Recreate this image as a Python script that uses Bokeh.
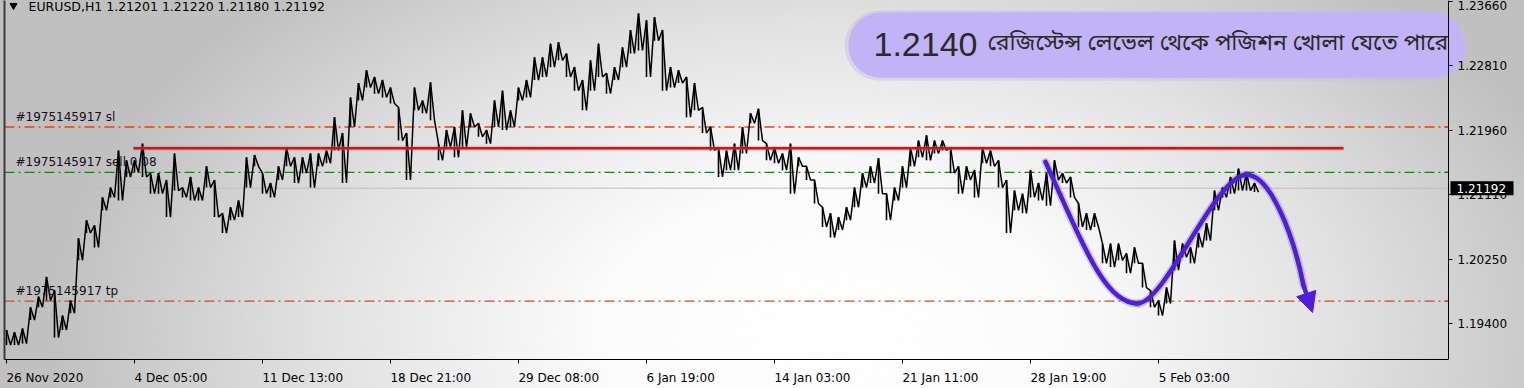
import numpy as np
from bokeh.plotting import figure
from bokeh.models import (Range1d, FixedTicker, LinearAxis, Label, BoxAnnotation,
                          Arrow, NormalHead, PrintfTickFormatter)
from bokeh.core.properties import value
from bokeh.embed import file_html
from bokeh.resources import INLINE

# ---------------- data ----------------
SYMBOL = "EURUSD,H1"
OHLC = [1.21201, 1.21220, 1.21180, 1.21192]

TICK_BARS = [0, 128, 256, 384, 512, 640, 768, 896, 1024, 1152]
TICK_LABELS = ["26 Nov 2020", "4 Dec 05:00", "11 Dec 13:00", "18 Dec 21:00",
               "29 Dec 08:00", "6 Jan 19:00", "14 Jan 03:00", "21 Jan 11:00",
               "28 Jan 19:00", "5 Feb 03:00"]
PRICE_TICKS = [1.1940, 1.2025, 1.2111, 1.2196, 1.2281, 1.2366]

STEP = 8  # hourly bars per sample
HIGH = [1.1932, 1.1929, 1.1934, 1.1962, 1.1976, 1.2002, 1.1984, 1.1951, 1.1971, 1.2053,
        1.2077, 1.2070, 1.2107, 1.2120, 1.2169, 1.2156, 1.2156, 1.2178, 1.2139, 1.2139,
        1.2130, 1.2165, 1.2120, 1.2134, 1.2120, 1.2148, 1.2130, 1.2086, 1.2094, 1.2103,
        1.2160, 1.2163, 1.2139, 1.2126, 1.2148, 1.2173, 1.2160, 1.2160, 1.2165, 1.2165,
        1.2169, 1.2213, 1.2192, 1.2239, 1.2258, 1.2275, 1.2266, 1.2262, 1.2252, 1.2226,
        1.2192, 1.2252, 1.2235, 1.2259, 1.2178, 1.2196, 1.2200, 1.2222, 1.2218, 1.2205,
        1.2196, 1.2235, 1.2248, 1.2222, 1.2252, 1.2262, 1.2292, 1.2292, 1.2310, 1.2312,
        1.2297, 1.2279, 1.2262, 1.2288, 1.2310, 1.2271, 1.2279, 1.2305, 1.2328, 1.2350,
        1.2341, 1.2345, 1.2328, 1.2279, 1.2275, 1.2266, 1.2258, 1.2226, 1.2200, 1.2173,
        1.2169, 1.2178, 1.2200, 1.2218, 1.2224, 1.2178, 1.2173, 1.2165, 1.2178, 1.2160,
        1.2148, 1.2130, 1.2094, 1.2086, 1.2081, 1.2094, 1.2120, 1.2139, 1.2148, 1.2159,
        1.2112, 1.2120, 1.2148, 1.2173, 1.2182, 1.2189, 1.2182, 1.2182, 1.2173, 1.2148,
        1.2148, 1.2143, 1.2173, 1.2169, 1.2156, 1.2130, 1.2116, 1.2112, 1.2143, 1.2126,
        1.2139, 1.2156, 1.2139, 1.2134, 1.2099, 1.2086, 1.2086, 1.2046, 1.2046, 1.2046,
        1.2033, 1.2041, 1.2020, 1.1984, 1.1971, 1.1988, 1.2050, 1.2046, 1.2041, 1.2060,
        1.2073, 1.2116, 1.2120, 1.2134, 1.2145, 1.2139, 1.2126]
LOW = [1.1912, 1.1912, 1.1914, 1.1945, 1.1962, 1.1971, 1.1922, 1.1932, 1.1954, 1.2024,
       1.2060, 1.2041, 1.2090, 1.2107, 1.2103, 1.2134, 1.2140, 1.2134, 1.2112, 1.2112,
       1.2081, 1.2116, 1.2107, 1.2103, 1.2103, 1.2120, 1.2081, 1.2060, 1.2077, 1.2081,
       1.2120, 1.2148, 1.2112, 1.2107, 1.2130, 1.2148, 1.2126, 1.2139, 1.2120, 1.2148,
       1.2152, 1.2169, 1.2126, 1.2200, 1.2235, 1.2252, 1.2244, 1.2239, 1.2231, 1.2182,
       1.2130, 1.2222, 1.2218, 1.2209, 1.2156, 1.2173, 1.2160, 1.2173, 1.2200, 1.2187,
       1.2178, 1.2200, 1.2196, 1.2200, 1.2235, 1.2239, 1.2262, 1.2266, 1.2279, 1.2288,
       1.2266, 1.2248, 1.2222, 1.2248, 1.2266, 1.2244, 1.2262, 1.2279, 1.2297, 1.2301,
       1.2266, 1.2314, 1.2248, 1.2252, 1.2258, 1.2213, 1.2222, 1.2192, 1.2169, 1.2134,
       1.2143, 1.2143, 1.2165, 1.2205, 1.2182, 1.2156, 1.2152, 1.2143, 1.2112, 1.2148,
       1.2130, 1.2099, 1.2068, 1.2054, 1.2064, 1.2077, 1.2094, 1.2120, 1.2126, 1.2112,
       1.2077, 1.2103, 1.2120, 1.2148, 1.2160, 1.2156, 1.2165, 1.2169, 1.2139, 1.2112,
       1.2130, 1.2107, 1.2152, 1.2148, 1.2120, 1.2060, 1.2090, 1.2086, 1.2107, 1.2103,
       1.2096, 1.2130, 1.2126, 1.2107, 1.2068, 1.2064, 1.2068, 1.2020, 1.2015, 1.2024,
       1.2007, 1.2020, 1.1988, 1.1962, 1.1951, 1.1967, 1.2011, 1.2028, 1.2020, 1.2041,
       1.2050, 1.2090, 1.2107, 1.2112, 1.2116, 1.2116, 1.2114]
BAR = [i * STEP for i in range(len(HIGH))]

ORDER_ID = "#1975145917"
LEVEL_SL = 1.2200
LEVEL_SELL = 1.2140
LEVEL_TP = 1.1970
LAST_PRICE = OHLC[3]
RESISTANCE = 1.2172
RES_FROM, RES_TO = 127, 1337

# hand-drawn forecast curve: cubic bezier pieces (bar index, price)
CURVE_START_BAR = [1039, 1131, 1240]
CURVE_START_PRICE = [1.2154, 1.1967, 1.2137]
CURVE_END_BAR = [1131, 1240, 1297]
CURVE_END_PRICE = [1.1967, 1.2137, 1.1991]
CURVE_C0_BAR = [1079, 1159, 1264]
CURVE_C0_PRICE = [1.2037, 1.1967, 1.2137]
CURVE_C1_BAR = [1099, 1209, 1287]
CURVE_C1_PRICE = [1.1967, 1.2137, 1.2057]
ARROW_TIP = (1306, 1.1955)

NOTE_LEVEL = "1.2140"
NOTE_TEXT = "রেজিস্টেন্স লেভেল থেকে পজিশন খোলা যেতে পারে"

# ---------------- layout ----------------
W, H = 1524, 388
BORDER_L, BORDER_B = 4, 29
FRAME_W = W - BORDER_L
FRAME_H = H - BORDER_B
X0 = -2
X1 = X0 + FRAME_W          # frame spans to the window edge
X_AXIS = 1442              # price scale sits here (pixel 1448)
Y0, Y1 = 1.1893, 1.2367
PX = (Y1 - Y0) / FRAME_H   # price per pixel

FONT = "DejaVu Sans"
BLUE = "#4e1ed8"
LEVEL_RED = "#d8481a"
LEVEL_GREEN = "#1f7d1f"
DASH = "10 4 2 4"

# approximate DejaVu Sans advance widths at 12px (for left-aligned date labels)
_CW = {" ": 3.8, ":": 4.0, "N": 9.0, "o": 7.3, "v": 7.1, "D": 9.2, "e": 7.4,
       "c": 6.6, "J": 3.5, "a": 7.4, "n": 7.6, "F": 6.9, "b": 7.6}


def text_w(s):
    return sum(7.63 if ch.isdigit() else _CW.get(ch, 7.0) for ch in s)


p = figure(width=W, height=H, output_backend="svg", toolbar_location=None,
           x_range=Range1d(X0, X1), y_range=Range1d(Y0, Y1),
           y_axis_location="right",
           min_border_left=BORDER_L, min_border_right=0,
           min_border_top=0, min_border_bottom=BORDER_B)
p.grid.visible = False
p.background_fill_color = None
p.border_fill_color = None
p.outline_line_color = None
p.styles = {"background": "radial-gradient(ellipse 780px 470px at 830px 330px, "
                          "#ffffff 0%, #fbfbfb 30%, #e2e2e2 65%, #c0c0c0 100%)"}

# x axis: labels left-aligned at their (minor) tick marks
lab_pos = [b + text_w(t) / 2 for b, t in zip(TICK_BARS, TICK_LABELS)]
xa = p.xaxis[0]
xa.ticker = FixedTicker(ticks=lab_pos, minor_ticks=TICK_BARS)
xa.major_label_overrides = {pp: t for pp, t in zip(lab_pos, TICK_LABELS)}
xa.bounds = (X0, X_AXIS)
xa.major_tick_in = 0
xa.major_tick_out = 0
xa.major_tick_line_color = None
xa.minor_tick_in = 0
xa.minor_tick_out = 4
xa.minor_tick_line_color = "black"
xa.major_label_standoff = 7
xa.major_label_text_font = FONT
xa.major_label_text_font_size = "12px"
xa.major_label_text_color = "black"
xa.axis_line_color = "black"

# price scale
ya = p.yaxis[0]
ya.fixed_location = X_AXIS
ya.ticker = FixedTicker(ticks=PRICE_TICKS)
ya.formatter = PrintfTickFormatter(format="%.5f")
ya.major_label_text_font = FONT
ya.major_label_text_font_size = "12px"
ya.major_label_text_color = "black"
ya.major_tick_in = 0
ya.major_tick_out = 4
ya.minor_tick_out = 0
ya.minor_tick_in = 0
ya.major_label_standoff = 5
ya.axis_line_color = "black"
ya.major_tick_line_color = "black"

la = LinearAxis(ticker=FixedTicker(ticks=[]), major_label_text_font_size="0px",
                major_tick_out=0, minor_tick_out=0, major_label_standoff=0,
                axis_line_color="#3a3a3a", axis_line_width=2)
p.add_layout(la, "left")

# note bubble (under everything)
p.add_layout(BoxAnnotation(left=838, right=1461, top=1.2354, bottom=1.2261,
                           fill_color="#c5b8f5", fill_alpha=0.45, line_alpha=0,
                           border_radius=36, level="underlay"))
p.add_layout(BoxAnnotation(left=842, right=1457, top=1.2351, bottom=1.2265,
                           fill_color="#c2b3f7", fill_alpha=1.0, line_alpha=0,
                           border_radius=32, level="underlay"))

# level lines
p.segment(x0=[X0], y0=[LAST_PRICE], x1=[X_AXIS], y1=[LAST_PRICE], line_color="#bdbdbd", line_width=1)
levels = [(LEVEL_SL, LEVEL_RED), (LEVEL_SELL, LEVEL_GREEN), (LEVEL_TP, LEVEL_RED)]
for lvl, col in levels:
    p.segment(x0=[X0], y0=[lvl], x1=[X_AXIS], y1=[lvl], line_color=col, line_width=1.3, line_dash=DASH)
    p.segment(x0=[X_AXIS - 4], y0=[lvl], x1=[X_AXIS], y1=[lvl], line_color=col, line_width=1.3)

p.text(x=[9, 9, 9],
       y=[LEVEL_SL + 3 * PX, LEVEL_SELL + 3 * PX, LEVEL_TP + 3 * PX],
       text=[ORDER_ID + " sl", ORDER_ID + " sell 0.08", ORDER_ID + " tp"],
       text_font=value(FONT), text_font_size="12px", text_color="#111111",
       text_baseline="bottom", text_align="left")

# price trace: high/low bars + sawtooth joining them
p.segment(x0=BAR, y0=LOW, x1=BAR, y1=HIGH, line_color="black", line_width=1.6)
xs, ys = [], []
for b, h, l in zip(BAR, HIGH, LOW):
    xs += [b, b + STEP / 2]
    ys += [h, l]
p.line(xs, ys, line_color="black", line_width=1.5)

# resistance line
p.segment(x0=[RES_FROM], y0=[RESISTANCE], x1=[RES_TO], y1=[RESISTANCE],
          line_color="#e07070", line_width=5, line_alpha=0.35)
p.segment(x0=[RES_FROM], y0=[RESISTANCE], x1=[RES_TO], y1=[RESISTANCE],
          line_color="#c8141c", line_width=2.5)

# forecast curve
for lw, la_ in [(8, 0.22), (4.5, 1.0)]:
    p.bezier(x0=CURVE_START_BAR, y0=CURVE_START_PRICE, x1=CURVE_END_BAR, y1=CURVE_END_PRICE,
             cx0=CURVE_C0_BAR, cy0=CURVE_C0_PRICE, cx1=CURVE_C1_BAR, cy1=CURVE_C1_PRICE,
             line_color=BLUE, line_width=lw, line_alpha=la_, line_cap="round")
p.add_layout(Arrow(end=NormalHead(size=20, fill_color=BLUE, line_color=BLUE),
                   x_start=CURVE_END_BAR[-1], y_start=CURVE_END_PRICE[-1],
                   x_end=ARROW_TIP[0], y_end=ARROW_TIP[1],
                   line_color=BLUE, line_width=4.5))

# note text
p.add_layout(Label(x=867, y=1.2309, text=NOTE_LEVEL, text_font="Liberation Sans",
                   text_font_size="34px", text_color="#2a2a2a", text_baseline="middle"))
p.add_layout(Label(x=981, y=1.2309, text=NOTE_TEXT, text_font="Noto Sans Bengali",
                   text_font_size="23px", text_color="#2a2a2a", text_baseline="middle"))

# header
p.scatter(x=[7], y=[Y1 - 5 * PX], marker="inverted_triangle", size=7, color="black")
p.add_layout(Label(x=22, y=Y1 - 6 * PX,
                   text=SYMBOL + "  " + " ".join(f"{v:.5f}" for v in OHLC),
                   text_font=FONT, text_font_size="12.5px", text_color="black",
                   text_baseline="middle"))

# last price tag on the price scale
TAG_W = 63  # pixels (1 bar == 1 pixel)
p.rect(x=[X_AXIS + 2 + TAG_W / 2], y=[LAST_PRICE], width=TAG_W, height=14 * PX,
       fill_color="black", line_color=None, level="overlay")
p.add_layout(Label(x=X_AXIS + 8, y=LAST_PRICE,
                   text=f"{LAST_PRICE:.5f}", text_font=FONT, level="overlay",
                   text_font_size="12px", text_color="white", text_baseline="middle"))

open("out.html", "w").write(file_html(p, INLINE))
